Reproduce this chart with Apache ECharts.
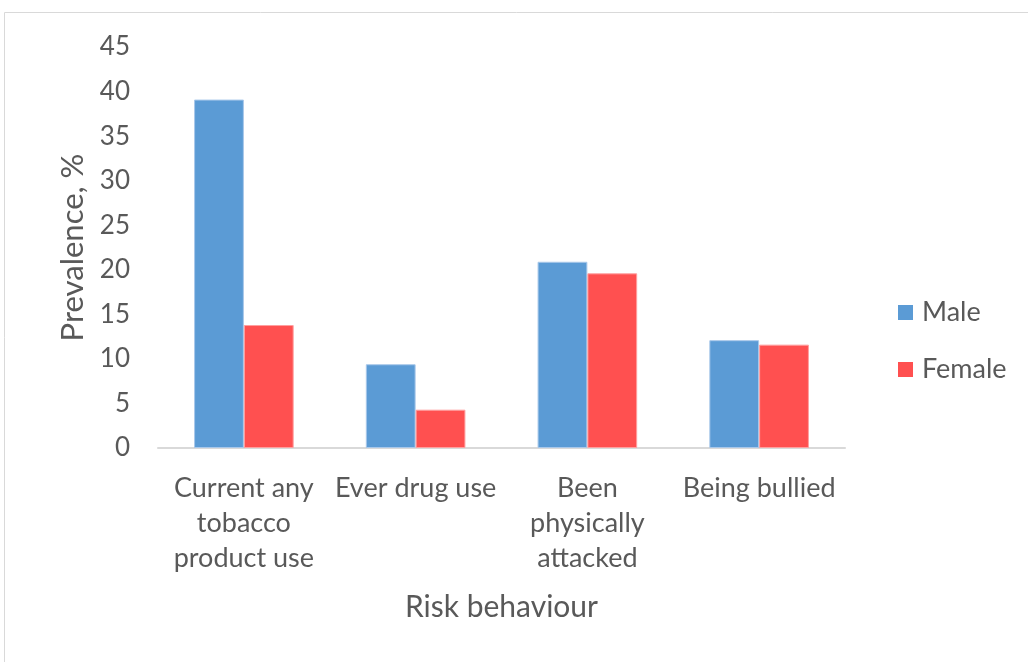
<!DOCTYPE html>
<html>
<head>
<meta charset="utf-8">
<script src="https://cdn.jsdelivr.net/npm/echarts@6/dist/echarts.min.js"></script>
<style>
  html, body { margin: 0; padding: 0; background: #fff; }
  #chart { width: 1028px; height: 662px; }
</style>
</head>
<body>
<div id="chart"></div>
<script>
// data
var categories = ['Current any\ntobacco\nproduct use', 'Ever drug use', 'Been\nphysically\nattacked', 'Being bullied'];
var male = [39.1, 9.4, 20.9, 12.1];
var female = [13.8, 4.3, 19.6, 11.6];

var txt = '#595959';
var font = 'Lato';

var myChart = echarts.init(document.getElementById('chart'));
var option = {
  animation: false,
  textStyle: { fontFamily: font },
  graphic: [{
    type: 'rect',
    shape: { x: 4.5, y: 12.5, width: 1040, height: 700 },
    style: { fill: 'none', stroke: '#d9d9d9', lineWidth: 1 },
    silent: true
  }],
  grid: { left: 158, right: 183, top: 47, bottom: 214 },
  legend: {
    orient: 'vertical',
    left: 893,
    top: 294,
    itemWidth: 15,
    itemHeight: 15,
    itemGap: 30,
    itemStyle: { borderWidth: 0 },
    icon: 'rect',
    textStyle: { color: txt, fontSize: 27, fontFamily: font, padding: [0, 0, 0, 4] },
    data: ['Male', 'Female']
  },
  xAxis: {
    type: 'category',
    data: categories,
    name: 'Risk behaviour',
    nameLocation: 'middle',
    nameGap: 144,
    nameTextStyle: { color: txt, fontSize: 30, fontFamily: font },
    axisLine: { lineStyle: { color: '#d9d9d9', width: 2 } },
    axisTick: { show: false },
    axisLabel: { color: txt, fontSize: 27, lineHeight: 35, margin: 23, interval: 0, fontFamily: font }
  },
  yAxis: {
    type: 'value',
    min: 0,
    max: 45,
    interval: 5,
    name: 'Prevalence, %',
    nameLocation: 'middle',
    nameGap: 63,
    nameTextStyle: { color: txt, fontSize: 31, fontFamily: font },
    splitLine: { show: false },
    axisLine: { show: false },
    axisTick: { show: false },
    axisLabel: { color: txt, fontSize: 26, margin: 28, fontFamily: font }
  },
  series: [
    {
      name: 'Male',
      type: 'bar',
      data: male,
      barGap: '0%',
      barCategoryGap: '42%',
      itemStyle: { color: '#5b9bd5', borderColor: '#a9c8ea', borderWidth: 1 }
    },
    {
      name: 'Female',
      type: 'bar',
      data: female,
      itemStyle: { color: '#ff5050', borderColor: '#ffa0a0', borderWidth: 1 }
    }
  ]
};
myChart.setOption(option);
</script>
</body>
</html>
